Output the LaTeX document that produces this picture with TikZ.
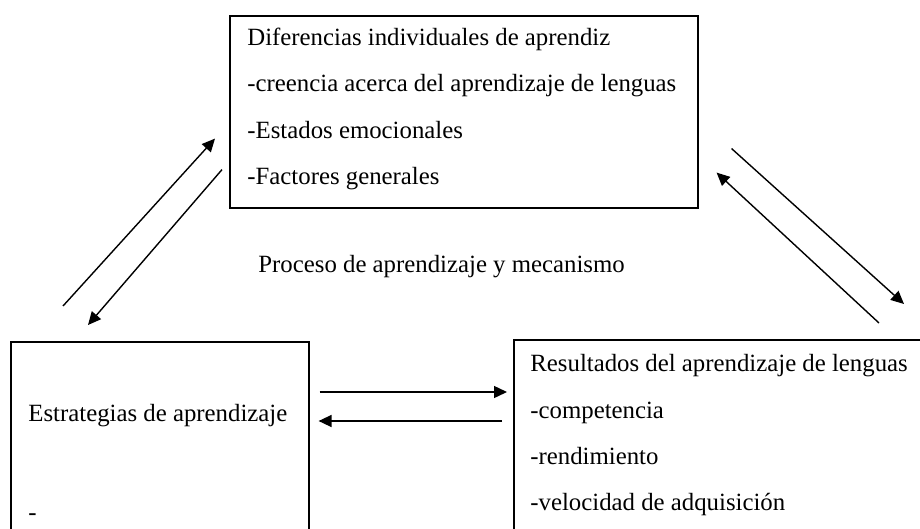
\documentclass[tikz,border=0pt]{standalone}
\usepackage{fontspec}
\setmainfont{Liberation Serif}
\usepackage{tikz}
\usetikzlibrary{arrows.meta, positioning, calc}

\begin{document}
\begin{tikzpicture}[x=0.5pt, y=-0.5pt,
                box/.style={draw, line width=0.8pt, anchor=north west, inner sep=0pt},
                txt/.style={font=\fontsize{12.4}{23.2}\selectfont, align=left,
                           anchor=north west, inner sep=0pt},
                link/.style={-{Triangle[length=6.5pt, width=6pt]}, line width=0.7pt}]

                \useasboundingbox (0,0) rectangle (920,529);

                % Individual differences box (top)
                \node[box, minimum width=234pt, minimum height=96pt] (learner) at (229,15) {};
                \node[txt] (learnertxt) at ([xshift=9pt,yshift=-6.3pt]learner.north west)
                    {Diferencias individuales de aprendiz\\
                     -creencia acerca del aprendizaje de lenguas\\
                     -Estados emocionales\\
                     -Factores generales};

                % Strategies box (bottom left) - runs off the page
                \node[box, minimum width=149pt, minimum height=110pt] (strat) at (10,341) {};
                \node[txt] (strattxt) at ([xshift=9pt,yshift=-31.5pt]strat.north west)
                    {Estrategias de aprendizaje\\[26.2pt]-};

                % Outcomes box (bottom right) - runs off the page
                \node[box, minimum width=215pt, minimum height=110pt] (outcome) at (513,339) {};
                \node[txt] (outcometxt) at ([xshift=8.5pt,yshift=-7.5pt]outcome.north west)
                    {Resultados del aprendizaje de lenguas\\
                     -competencia\\
                     -rendimiento\\
                     -velocidad de adquisición};

                % Middle label
                \node[txt, anchor=base west] (process) at (258,272)
                    {Proceso de aprendizaje y mecanismo};

                % Left pair of arrows
                \draw[link] ($(strat.north west)+(53,-35)$) -- ($(learner.south west)+(-14,-70)$);
                \draw[link] ($(learner.south west)+(-7,-39)$) -- ($(strat.north west)+(78,-16)$);

                % Right pair of arrows
                \draw[link] ($(learner.south east)+(33,-60)$) -- ($(outcome.north west)+(391,-35)$);
                \draw[link] ($(outcome.north west)+(366,-16)$) -- ($(learner.south east)+(18,-36)$);

                % Bottom pair of arrows
                \draw[link] ($(strat.north east)+(10,51)$) -- ($(outcome.north west)+(-6,53)$);
                \draw[link] ($(outcome.north west)+(-11,82)$) -- ($(strat.north east)+(9,80)$);
            \end{tikzpicture}
\end{document}
